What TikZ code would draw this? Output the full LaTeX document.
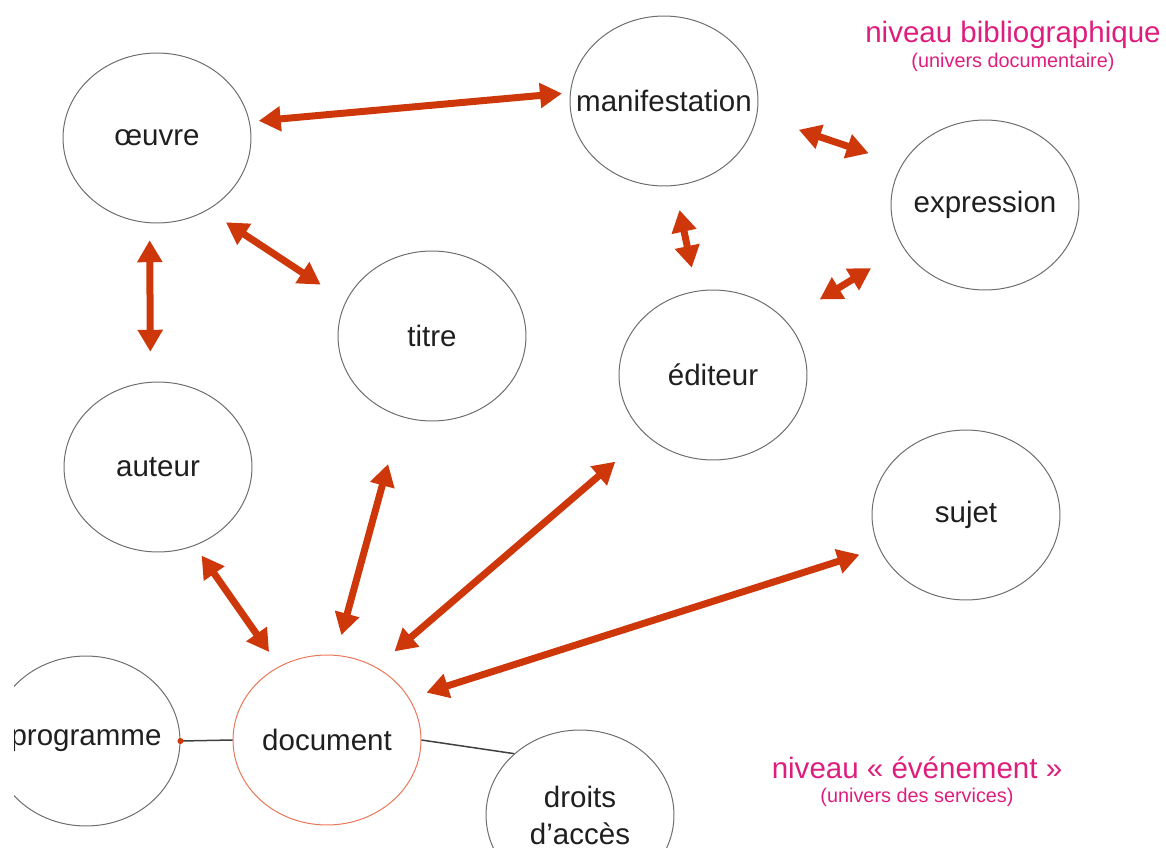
\documentclass[tikz,border=0pt]{standalone}
\usepackage{fontspec}
\setmainfont{Liberation Sans}
\usetikzlibrary{shapes.geometric,arrows.meta}
\definecolor{arrowred}{RGB}{205,55,10}
\definecolor{docline}{RGB}{232,120,90}
\definecolor{ringgray}{RGB}{110,110,110}
\definecolor{levelpink}{RGB}{222,30,125}
\tikzset{
  entite/.style={ellipse,draw=ringgray,line width=0.02cm,inner xsep=-0.5cm,
    inner ysep=0pt,minimum width=3.76cm,minimum height=3.4cm,text=black!88,
    font=\fontsize{16.8}{21}\selectfont,align=center},
  rel/.style={draw=arrowred,line width=0.14cm,
    arrows={Triangle[length=0.44cm,width=0.48cm]-Triangle[length=0.44cm,width=0.48cm]}},
  trait/.style={draw=black!75,line width=0.03cm},
  niveau/.style={text=levelpink,font=\fontsize{16.8}{20}\selectfont,inner sep=0pt},
  univers/.style={text=levelpink,font=\fontsize{11.3}{14}\selectfont,inner sep=0pt}
}
\begin{document}
\begin{tikzpicture}[x=0.02cm,y=-0.02cm]
\useasboundingbox (0,0) rectangle (1166,848);
\begin{scope}
\clip (14,0) rectangle (1166,848);
            \node[entite] (oeuvre) at (157,138) {œuvre};
            \node[entite] (manif) at (664,101) {manifestation};
            \node[entite] (expr) at (985,205) {expression};
            \node[entite] (titre) at (432,336) {titre};
            \node[entite] (editeur) at (713,375) {éditeur};
            \node[entite] (auteur) at (158,467) {auteur};
            \node[entite] (sujet) at (966,515) {sujet};
            \node[entite,draw=docline] (doc) at (327,740) {document};
            \node[entite] (prog) at (86,741) {programme};
            \node[entite] (droits) at (580,815) {droits\\d’accès};

            \node[niveau] (biblio) at (1013,35) {niveau bibliographique};
            \node[univers] (docu) at (1013,62) {(univers documentaire)};
            \node[niveau] (event) at (917,768) {niveau « événement »};
            \node[univers] (serv) at (917,797) {(univers des services)};

            \draw[rel,shorten <=0.18cm,shorten >=0.16cm] (oeuvre.10) -- (manif.175);
            \draw[rel,shorten <=0.88cm,shorten >=0.70cm] (manif.-9) -- (expr.154);
            \draw[rel,shorten <=0.49cm,shorten >=0.47cm] (manif.-83) -- (editeur.101);
            \draw[rel,shorten <=0.80cm,shorten >=0.76cm] (editeur.37) -- (expr.208);
            \draw[rel,shorten <=0.44cm,shorten >=0.60cm] (oeuvre.-55) -- (titre.158);
            \draw[rel,shorten <=0.34cm,shorten >=0.60cm] (oeuvre.-95) -- (auteur.95);
            \draw[rel,shorten <=0.24cm,shorten >=0.35cm] (auteur.-65) -- (doc.123);
            \draw[rel,shorten <=0.98cm,shorten >=0.41cm] (titre.-111) -- (doc.84);
            \draw[rel,shorten <=0.81cm,shorten >=0.48cm] (editeur.-138) -- (doc.56);
            \draw[rel,shorten <=0.41cm,shorten >=0.36cm] (sujet.201) -- (doc.27);

            \draw[trait] (prog.east) -- (doc.west);
            \fill[arrowred] (prog.east) circle (3);
            \draw[trait] (doc.east) -- (droits.137);
\end{scope}
\end{tikzpicture}
\end{document}
